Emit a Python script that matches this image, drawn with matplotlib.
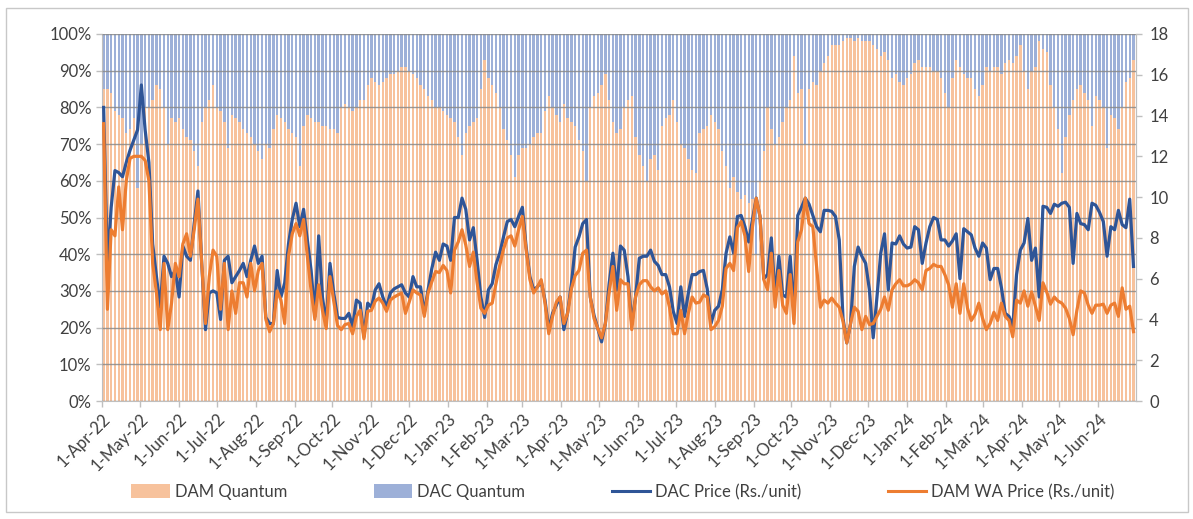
import numpy as np
import pandas as pd
import matplotlib
matplotlib.use('Agg')
import matplotlib.pyplot as plt
import matplotlib.dates as mdates
from matplotlib.patches import Rectangle, Patch
from matplotlib.lines import Line2D

plt.rcParams['font.family'] = ['Lato', 'DejaVu Sans']

# ---------------- data (3-day samples from 1-Apr-2022) ----------------
start_date = '2022-04-01'
n_points = 274
step = '3D'

dam_share = [85, 85, 84, 79, 78, 77, 73, 74, 77, 58,
             70, 80, 80, 82, 86, 85, 80, 70, 77, 76,
             77, 74, 72, 71, 68, 64, 76, 80, 82, 86,
             80, 79, 76, 69, 78, 77, 76, 74, 73, 72,
             70, 68, 66, 70, 69, 74, 78, 77, 76, 74,
             73, 72, 64, 75, 78, 77,
             76, 76, 75, 75, 74, 74, 73, 80, 81, 80,
             79, 80, 82, 82, 86, 88, 87, 86, 87, 88,
             89, 89, 90, 91, 91, 90, 89, 88, 86, 85,
             83, 82, 80, 80, 79, 78, 77, 76, 72, 67,
             73, 75, 76, 77, 85, 93, 88, 86, 84, 80,
             74, 71, 67, 61,
             67, 69, 69, 70, 72, 73, 73, 79, 83, 80,
             78, 76, 81, 77, 76, 75, 71, 68, 60, 80,
             83, 84, 86, 89, 82, 76, 73, 74, 80, 82,
             83, 72, 67, 64, 60, 66, 67, 63, 75, 77,
             78, 82, 76, 70, 69, 66, 63, 62, 73, 74,
             75, 78, 76, 74,
             68, 64, 58, 61, 57, 55, 56, 54, 55, 40,
             60, 68, 80, 74, 70, 72, 76, 80, 82, 94,
             84, 85, 70, 85, 87, 86, 90, 92, 94, 97,
             97, 97, 98, 99, 99, 98, 99, 98, 98, 98,
             97, 96, 94, 95, 93, 88, 89, 87, 86, 88,
             89, 92, 93, 91,
             91, 91, 90, 90, 88, 84, 80, 88, 93, 91,
             89, 88, 88, 85, 83, 86, 91, 90, 91, 91,
             89, 92, 93, 92, 94, 97, 90, 85, 90, 91,
             98, 96, 95, 86, 80, 74, 62, 72, 78, 82,
             85, 86, 84, 82, 75, 83, 82, 80, 69, 78,
             77, 74, 80, 87, 88, 93]
dac_share = [100 - v for v in dam_share]

dac_price = [14.4, 6.6, 9.5, 11.3, 11.2, 11.0, 11.7, 12.3, 12.8, 13.3,
             15.5, 13.3, 11.7, 7.7, 6.1, 4.6, 7.1, 6.75, 6.1, 6.4,
             5.1, 7.6, 7.1, 6.9, 8.7, 10.3, 6.75, 3.5, 5.3, 5.4,
             5.3, 4.0, 6.9, 7.1, 5.8, 6.1, 6.4, 6.75, 6.1, 6.9,
             7.6, 6.75, 7.1, 4.1, 3.8, 3.8, 6.4, 5.1, 5.8, 7.7,
             8.9, 9.7, 8.55, 9.4, 7.9, 6.4,
             4.14, 8.1, 5.1, 3.8, 6.75, 5.3, 4.1, 4.05, 4.05, 4.3,
             3.65, 4.95, 4.8, 3.15, 4.8, 4.6, 5.45, 5.75, 5.1, 4.6,
             5.3, 5.5, 5.6, 5.7, 5.3, 5.1, 6.1, 5.6, 5.6, 4.3,
             5.45, 6.5, 7.3, 6.9, 7.7, 7.6, 6.9, 9.0, 9.0, 9.95,
             9.4, 7.9, 8.5, 6.9, 5.1, 4.1, 5.45, 5.75, 6.7, 7.25,
             8.05, 8.8, 8.9, 8.55,
             9.05, 9.5, 7.55, 6.1, 5.45, 5.6, 5.85, 4.95, 3.5, 4.3,
             4.7, 5.1, 3.5, 4.35, 5.75, 7.55, 8.05, 8.7, 8.9, 5.1,
             4.2, 3.55, 2.9, 3.8, 5.75, 7.25, 5.45, 7.6, 7.4, 6.1,
             3.8, 5.1, 7.0, 7.1, 7.1, 7.4, 6.85, 6.65, 6.2, 6.2,
             5.6, 4.4, 3.8, 5.6, 4.15, 5.3, 6.2, 6.2, 6.35, 6.4,
             5.5, 3.8, 4.45, 4.65,
             5.45, 7.25, 8.05, 7.25, 9.05, 9.1, 8.55, 7.8, 8.9, 9.95,
             9.05, 6.0, 6.2, 8.0, 5.1, 7.1, 5.2, 5.1, 7.1, 4.3,
             9.1, 9.5, 9.95, 9.65, 9.1, 8.55, 8.3, 9.35, 9.35, 9.3,
             9.05, 7.9, 4.05, 2.85, 3.8, 6.6, 7.55, 7.1, 6.75, 5.45,
             3.1, 5.1, 7.25, 8.2, 5.45, 7.75, 7.7, 8.1, 7.7, 7.5,
             7.55, 8.55, 8.4, 6.75,
             7.75, 8.55, 9.0, 8.9, 7.9, 7.9, 7.6, 7.85, 8.2, 6.0,
             8.45, 8.3, 8.15, 7.5, 7.1, 7.75, 7.5, 5.95, 6.5, 6.5,
             5.55, 4.3, 4.15, 3.65, 6.2, 7.4, 7.75, 8.95, 6.9, 7.5,
             5.1, 9.55, 9.5, 9.2, 9.65, 9.55, 9.7, 9.75, 9.5, 6.75,
             9.2, 8.7, 8.65, 8.4, 9.7, 9.6, 9.25, 8.8, 7.1, 8.55,
             8.4, 9.35, 8.65, 8.5, 9.9, 6.6]

dam_price = [13.6, 4.5, 8.4, 8.1, 10.5, 8.4, 10.8, 11.9, 12.0, 12.0,
             12.0, 11.8, 10.8, 6.75, 5.3, 3.5, 6.75, 3.5, 4.8, 6.75,
             6.1, 7.7, 8.2, 7.1, 8.4, 9.9, 6.75, 3.8, 6.1, 7.4,
             7.1, 4.5, 6.75, 3.5, 5.4, 4.3, 5.8, 5.8, 5.1, 6.75,
             5.4, 6.4, 6.75, 4.0, 3.4, 3.8, 5.4, 4.95, 3.8, 7.1,
             8.2, 8.7, 8.1, 8.9, 7.1, 5.4,
             4.0, 5.7, 4.45, 3.55, 6.1, 4.9, 3.7, 3.5, 3.75, 3.8,
             3.3, 4.15, 4.45, 3.05, 4.4, 4.45, 4.9, 5.05, 4.8, 4.4,
             4.95, 5.1, 5.2, 5.3, 4.3, 4.85, 5.45, 5.3, 5.2, 4.15,
             5.3, 5.85, 6.35, 6.3, 6.65, 6.4, 5.3, 7.4, 7.8, 8.4,
             7.65, 6.6, 7.3, 5.8, 4.55, 4.3, 4.7, 4.8, 5.75, 6.65,
             7.45, 8.0, 8.1, 7.6,
             8.4, 9.05, 7.4, 5.95, 5.3, 5.6, 5.95, 4.8, 3.3, 4.15,
             4.85, 5.1, 3.8, 4.3, 5.5, 6.15, 6.4, 7.25, 7.4, 5.1,
             4.05, 3.55, 3.1, 3.8, 5.3, 6.6, 4.45, 5.95, 5.75, 5.75,
             3.5, 5.1, 5.7, 5.9, 5.9, 5.6, 5.4, 5.55, 5.25, 5.4,
             4.6, 3.3, 3.3, 4.45, 3.3, 4.3, 5.1, 4.8, 4.85, 5.2,
             5.1, 3.5, 3.65, 3.95,
             4.65, 6.5, 6.75, 6.4, 8.5, 8.8, 8.1, 6.35, 8.55, 9.95,
             9.05, 5.95, 5.45, 7.25, 4.6, 6.4, 4.7, 4.3, 6.2, 3.8,
             7.8, 8.4, 9.95, 8.7, 8.55, 6.6, 4.6, 4.95, 4.8, 5.05,
             4.8, 4.6, 3.9, 2.85, 3.8, 4.6, 4.4, 3.5, 4.15, 3.75,
             3.8, 4.15, 4.5, 5.1, 4.45, 5.45, 5.75, 5.95, 5.65, 5.65,
             5.75, 5.95, 5.8, 5.45,
             6.4, 6.5, 6.7, 6.6, 6.6, 6.2, 5.7, 4.6, 5.75, 4.3,
             5.75, 4.55, 3.95, 4.25, 4.8, 4.05, 3.5, 3.8, 4.35, 3.95,
             4.8, 4.15, 3.95, 3.15, 4.95, 4.8, 5.4, 4.65, 5.35, 4.65,
             3.95, 5.8, 5.35, 4.75, 5.1, 4.9, 4.8, 4.55, 4.05, 3.25,
             4.45, 5.4, 5.3, 4.7, 4.3, 4.7, 4.7, 4.75, 4.3, 4.7,
             4.8, 4.15, 5.55, 4.5, 4.65, 3.4]

series_labels = ['DAM Quantum', 'DAC Quantum', 'DAC Price (Rs./unit)', 'DAM WA Price (Rs./unit)']
left_ticks = list(range(0, 101, 10))
right_ticks = list(range(0, 19, 2))

# ---------------- styling ----------------
C_DAM_BAR = '#F7C29C'
C_DAC_BAR = '#9DB0D8'
C_DAC_LINE = '#2F5597'
C_DAM_LINE = '#ED7D31'
TXT = '#404040'
AX = '#BFBFBF'
FS = 12

W, H = 1193, 519
fig = plt.figure(figsize=(W / 100, H / 100), dpi=100)
fig.patches.append(Rectangle((6 / W, 1 - 512 / H), (1188 - 6) / W, (512 - 8) / H,
                             transform=fig.transFigure, fill=False,
                             edgecolor='#C8C8C8', lw=1.0))

ax = fig.add_axes([102 / W, (H - 401) / H, (1136 - 102) / W, 367 / H])

dates = pd.date_range(start_date, periods=n_points, freq=step)
x = mdates.date2num(dates) + 1.0
ax.bar(x, dam_share, width=1.9, color=C_DAM_BAR, linewidth=0, zorder=1)
ax.bar(x, dac_share, bottom=dam_share, width=1.9, color=C_DAC_BAR, linewidth=0, zorder=1)

x0 = mdates.date2num(pd.Timestamp(start_date))
ax.set_xlim(x0 - 0.3, x0 + 822)
ax.set_ylim(0, 100)
ax.set_yticks(left_ticks)
ax.set_yticklabels([f'{v}%' for v in left_ticks])
ax.yaxis.grid(True, color='#8A8A8A', lw=1.0, alpha=0.85, zorder=2)
ax.set_axisbelow(False)

months = pd.date_range(start_date, '2024-06-01', freq='MS')
ax.set_xticks(mdates.date2num(months))
ax.set_xticklabels([f'1-{d:%b-%y}' for d in months], rotation=45, ha='right',
                   rotation_mode='anchor')

ax.spines['top'].set_visible(False)
for s in ['left', 'bottom', 'right']:
    ax.spines[s].set_color(AX)
ax.tick_params(axis='x', length=4, width=1, color=AX, labelsize=FS, labelcolor=TXT, pad=3)
ax.tick_params(axis='y', length=4.5, width=1, color=AX, labelsize=FS, labelcolor=TXT, pad=3)

ax2 = ax.twinx()
ax2.plot(x, dac_price, color=C_DAC_LINE, lw=2.3, solid_joinstyle='round')
ax2.plot(x, dam_price, color=C_DAM_LINE, lw=2.3, solid_joinstyle='round')
ax2.set_ylim(0, 18)
ax2.set_yticks(right_ticks)
ax2.tick_params(axis='y', length=4.5, width=1, color=AX, labelsize=FS, labelcolor=TXT, pad=5)
for s in ['top', 'left', 'bottom']:
    ax2.spines[s].set_visible(False)
ax2.spines['right'].set_color(AX)

handles = [Patch(facecolor=C_DAM_BAR, edgecolor='none'),
           Patch(facecolor=C_DAC_BAR, edgecolor='none'),
           Line2D([], [], color=C_DAC_LINE, lw=2.2),
           Line2D([], [], color=C_DAM_LINE, lw=2.2)]
leg = fig.legend(handles, series_labels, loc='center', bbox_to_anchor=(623 / W, 1 - 492 / H),
                 ncol=4, frameon=False, fontsize=FS, handlelength=2.3, handleheight=0.9,
                 handletextpad=0.3, columnspacing=5.2)
for t in leg.get_texts():
    t.set_color(TXT)

fig.savefig('out.png', dpi=100)
